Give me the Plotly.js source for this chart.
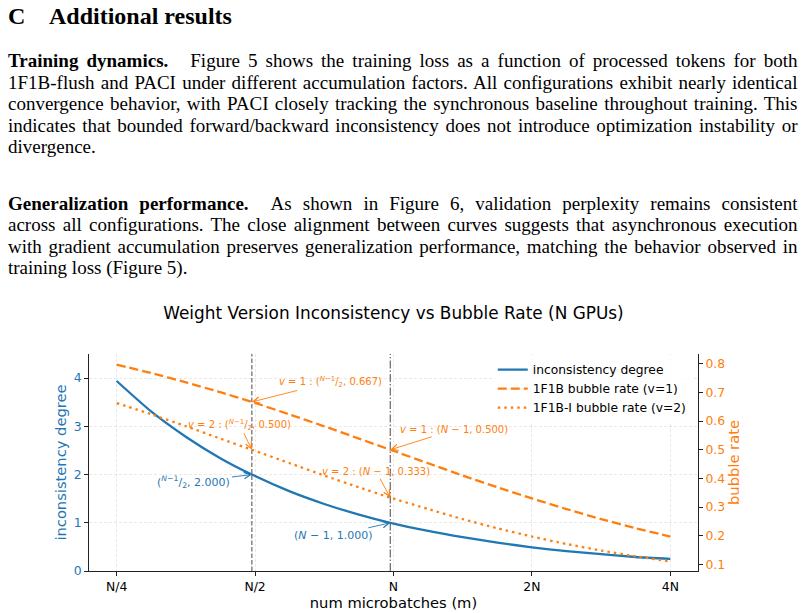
<!DOCTYPE html>
<html>
<head>
<meta charset="utf-8">
<script src="https://cdn.plot.ly/plotly-3.0.1.min.js"></script>
<style>
  html, body { margin: 0; padding: 0; background: #fff; width: 806px; height: 613px; overflow: hidden; }
  .t { position: absolute; left: 8px; font-family: "Liberation Serif", "Times New Roman", serif;
       font-size: 19px; line-height: 20px; white-space: pre; color: #000; }
  .h { font-size: 24px; font-weight: bold; line-height: 28px; }
  .q { display: inline-block; width: 22px; }
  #chart { position: absolute; left: 0; top: 290px; width: 806px; height: 323px; }
</style>
</head>
<body>
<div id="page"></div>
<div id="chart"></div>
<script>
// ---- section text ----
const headingNum = 'C';
const headingText = 'Additional results';
const para1 = [
  '<b>Training dynamics.</b><span class="q">\u2003</span>Figure 5 shows the training loss as a function of processed tokens for both',
  '1F1B-flush and PACI under different accumulation factors. All configurations exhibit nearly identical',
  'convergence behavior, with PACI closely tracking the synchronous baseline throughout training. This',
  'indicates that bounded forward/backward inconsistency does not introduce optimization instability or',
  'divergence.'
];
const para2 = [
  '<b>Generalization performance.</b><span class="q">\u2003</span>As shown in Figure 6, validation perplexity remains consistent',
  'across all configurations. The close alignment between curves suggests that asynchronous execution',
  'with gradient accumulation preserves generalization performance, matching the behavior observed in',
  'training loss (Figure 5).'
];

// ---- chart data (m in units of N) ----
const microbatches = [0.25, 0.297, 0.354, 0.42, 0.492, 0.595, 0.707, 0.841, 0.984, 1.189, 1.414, 1.682, 2, 2.378, 2.828, 3.364, 4];
const inconsistency = [3.94, 3.31, 2.78, 2.34, 2.00, 1.65, 1.39, 1.17, 1.00, 0.83, 0.70, 0.59, 0.49, 0.41, 0.35, 0.29, 0.25];
const bubble1F1B = [0.797, 0.768, 0.735, 0.701, 0.667, 0.623, 0.582, 0.539, 0.500, 0.453, 0.410, 0.369, 0.330, 0.293, 0.258, 0.226, 0.197];
const bubble1F1BI = [0.663, 0.624, 0.582, 0.539, 0.500, 0.453, 0.410, 0.369, 0.333, 0.293, 0.258, 0.226, 0.197, 0.171, 0.148, 0.128, 0.110];
const xTickVals = [0.25, 0.5, 1, 2, 4];
const xTickText = ['N/4', 'N/2', 'N', '2N', '4N'];
const leftTicks = [0, 1, 2, 3, 4];
const rightTicks = [0.1, 0.2, 0.3, 0.4, 0.5, 0.6, 0.7, 0.8];
const mHalf = 0.492;   // (N-1)/2
const mFull = 0.984;   // N-1
const markedInconsistency = [2.000, 1.000];
const markedV1 = [0.667, 0.500];
const markedV2 = [0.500, 0.333];

// ---- lay out the text lines ----
const page = document.getElementById('page');
const lineRight = 797.5, lineLeft = 8;
function addLine(html, baseline, justify, cls) {
  const d = document.createElement('div');
  d.className = 't' + (cls ? ' ' + cls : '');
  d.innerHTML = html;
  page.appendChild(d);
  const asc = cls === 'h' ? 21.8 : 16.4;
  d.style.top = (baseline - asc) + 'px';
  if (justify) {
    const w = d.getBoundingClientRect().width;
    const n = d.textContent.split(' ').length - 1;
    if (n > 0) d.style.wordSpacing = ((lineRight - lineLeft - w) / n) + 'px';
  }
  return d;
}
addLine(headingNum, 23.5, false, 'h');
const hd = addLine(headingText, 23.5, false, 'h');
hd.style.left = '49px';
const step = 21.5;
para1.forEach((s, i) => addLine(s, 67.5 + i * step, i < para1.length - 1));
para2.forEach((s, i) => addLine(s, 210 + i * step, i < para2.length - 1));

// ---- chart ----
const blue = '#1f77b4', orange = '#ff7f0e';
const traces = [
  { x: microbatches, y: inconsistency, name: 'inconsistency degree', mode: 'lines',
    line: { color: blue, width: 2.3, shape: 'spline', smoothing: 0.6 }, yaxis: 'y' },
  { x: microbatches, y: bubble1F1B, name: '1F1B bubble rate (v=1)', mode: 'lines',
    line: { color: orange, width: 2.3, dash: '9px,4px', shape: 'spline', smoothing: 0.6 }, yaxis: 'y2' },
  { x: microbatches, y: bubble1F1BI, name: '1F1B-I bubble rate (v=2)', mode: 'lines',
    line: { color: orange, width: 2.3, dash: '2.5px,4px', shape: 'spline', smoothing: 0.6 }, yaxis: 'y2' },
  { x: [mHalf, mHalf], y: [0, 4.5], mode: 'lines', showlegend: false, hoverinfo: 'skip',
    line: { color: '#666', width: 1.2, dash: '4.5px,2px' }, yaxis: 'y' },
  { x: [mFull, mFull], y: [0, 4.5], mode: 'lines', showlegend: false, hoverinfo: 'skip',
    line: { color: '#666', width: 1.2, dash: '8px,2px,1.5px,2px' }, yaxis: 'y' }
];

const frac = '(<sup><i>N</i>−1</sup>/<sub>2</sub>';
function note(x, y, yref, text, color, size, ax, ay) {
  return { x: Math.log10(x), y: y, xref: 'x', yref: yref, text: text, showarrow: true,
    arrowhead: 5, arrowsize: 1.4, arrowwidth: 0.9, arrowcolor: color, standoff: 0,
    ax: ax, ay: ay, font: { family: 'DejaVu Sans', size: size, color: color } };
}
const annotations = [
  note(mHalf, markedInconsistency[0], 'y', frac + ', ' + markedInconsistency[0].toFixed(3) + ')', blue, 11, -58, 7),
  note(mFull, markedInconsistency[1], 'y', '(<i>N</i> − 1, ' + markedInconsistency[1].toFixed(3) + ')', blue, 11, -57, 13),
  note(mHalf, markedV1[0], 'y2', '<i>v</i> = 1 : ' + frac + ', ' + markedV1[0].toFixed(3) + ')', orange, 10, 79, -20),
  note(mHalf, markedV2[0], 'y2', '<i>v</i> = 2 : ' + frac + ', ' + markedV2[0].toFixed(3) + ')', orange, 10, -12, -25),
  note(mFull, markedV1[1], 'y2', '<i>v</i> = 1 : (<i>N</i> − 1, ' + markedV1[1].toFixed(3) + ')', orange, 10, 64, -20),
  note(mFull, markedV2[1], 'y2', '<i>v</i> = 2 : (<i>N</i> − 1, ' + markedV2[1].toFixed(3) + ')', orange, 10, -14, -26)
];

const gridColor = 'rgba(176,176,176,0.35)';
const axisCommon = { ticks: 'outside', ticklen: 4, tickwidth: 1, tickcolor: '#222',
  showline: true, linecolor: '#222', linewidth: 1, zeroline: false, fixedrange: true };

const layout = {
  width: 806, height: 323,
  margin: { l: 89, r: 108, t: 64, b: 42, pad: 0 },
  paper_bgcolor: 'rgba(0,0,0,0)', plot_bgcolor: '#fff',
  font: { family: 'DejaVu Sans', size: 12.3, color: '#000' },
  title: { text: 'Weight Version Inconsistency vs Bubble Rate (N GPUs)',
    font: { family: 'DejaVu Sans', size: 16.9, color: '#000' },
    x: 0.5, xref: 'paper', xanchor: 'center', y: 1 - 23 / 323, yref: 'container', yanchor: 'middle' },
  xaxis: Object.assign({}, axisCommon, {
    type: 'log', range: [-0.6622, 0.6622], tickmode: 'array', tickvals: xTickVals, ticktext: xTickText,
    tickfont: { size: 12.4, color: '#000' },
    showgrid: true, gridcolor: gridColor, gridwidth: 0.8, griddash: '3px,2px',
    title: { text: 'num microbatches (m)', font: { size: 14.7, color: '#000' }, standoff: 2 } }),
  yaxis: Object.assign({}, axisCommon, {
    range: [0, 4.5], tickmode: 'array', tickvals: leftTicks,
    tickfont: { size: 12.4, color: blue },
    showgrid: true, gridcolor: gridColor, gridwidth: 0.8, griddash: '3px,2px',
    title: { text: 'inconsistency degree', font: { size: 14.7, color: blue }, standoff: 3 } }),
  yaxis2: Object.assign({}, axisCommon, {
    overlaying: 'y', side: 'right', range: [0.0767, 0.8344], tickmode: 'array', tickvals: rightTicks,
    tickformat: '.1f', tickfont: { size: 12.4, color: orange }, showgrid: false,
    title: { text: 'bubble rate', font: { size: 14.7, color: orange }, standoff: 3 } }),
  legend: { x: 0.663, y: 0.995, xanchor: 'left', yanchor: 'top', bgcolor: 'rgba(255,255,255,0.8)',
    borderwidth: 0, font: { size: 12.3, color: '#000' } },
  annotations: annotations,
  hovermode: false
};

Plotly.newPlot('chart', traces, layout, { displayModeBar: false, staticPlot: true });
</script>
</body>
</html>
